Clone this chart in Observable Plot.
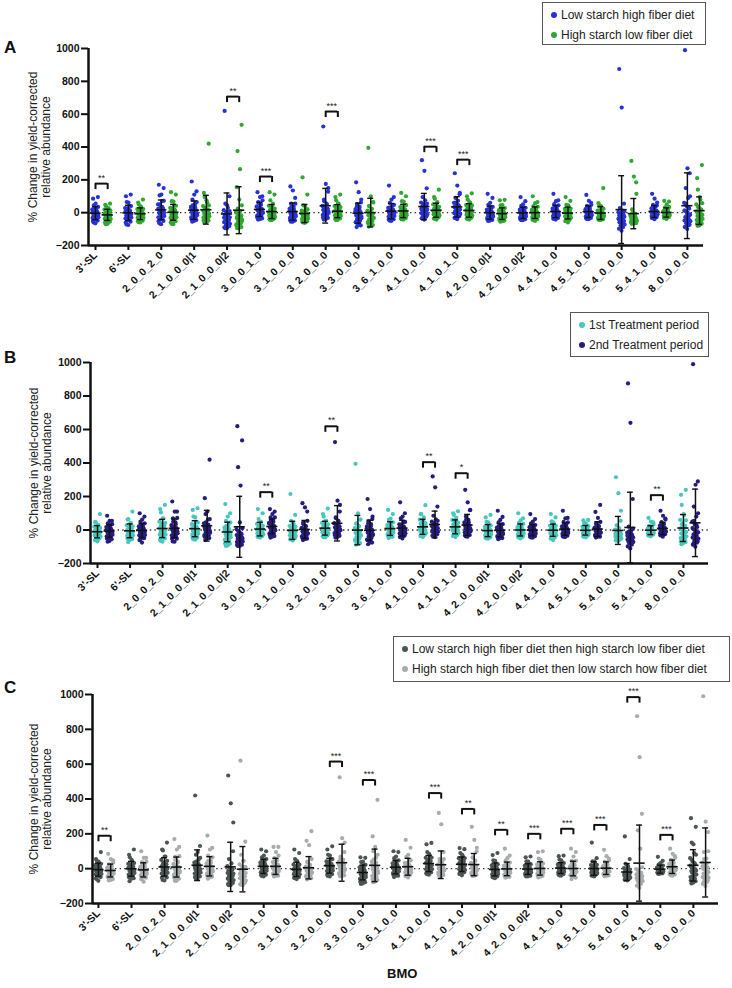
<!DOCTYPE html>
<html><head><meta charset="utf-8">
<script src="https://cdn.jsdelivr.net/npm/d3@7"></script>
<script src="https://cdn.jsdelivr.net/npm/@observablehq/plot@0.6"></script>
<style>
body{margin:0;background:#fff;font-family:"Liberation Sans",Arial,sans-serif;}
#root{position:relative;width:732px;height:988px;overflow:hidden;background:#fff;}
.legend{position:absolute;border:1px solid #555;background:#fff;font-size:12px;color:#222;box-sizing:border-box;padding:2px 0 0 8px;}
.legend .row{height:20px;line-height:20px;white-space:nowrap;}
.legend .dot{display:inline-block;width:6px;height:6px;border-radius:50%;margin-right:4px;vertical-align:1px;}
.letter{position:absolute;font-weight:bold;font-size:17px;line-height:17px;color:#111;}
.xtitle{position:absolute;font-weight:bold;font-size:13px;color:#111;}
</style></head>
<body><div id="root"></div>
<script>
// ---------------- data ----------------
const categories = ["3'-SL","6'-SL","2_0_0_2_0","2_1_0_0_0|1","2_1_0_0_0|2","3_0_0_1_0","3_1_0_0_0","3_2_0_0_0","3_3_0_0_0","3_6_1_0_0","4_1_0_0_0","4_1_0_1_0","4_2_0_0_0|1","4_2_0_0_0|2","4_4_1_0_0","4_5_1_0_0","5_4_0_0_0","5_4_1_0_0","8_0_0_0_0"];

// subjects on low starch high fiber diet first: period 1 (LSHF diet)
const lhFirst = [
[-60,-48,-40,-32,-25,-18,-12,-8,-2,5,12,20,30,45,95],
[-72,-55,-45,-35,-26,-18,-10,-4,3,10,18,28,42,65,110],
[-65,-50,-38,-28,-18,-8,0,8,16,25,36,50,70,105,150],
[-55,-45,-36,-28,-20,-12,-5,2,8,15,24,35,50,80,130],
[-95,-82,-70,-58,-48,-38,-28,-20,-12,-4,5,15,30,55,100],
[-42,-35,-28,-20,-12,-5,2,8,14,20,28,36,48,65,100],
[-55,-48,-40,-32,-25,-18,-12,-6,0,6,14,24,36,55,90],
[-42,-32,-22,-14,-6,0,6,12,18,25,32,42,55,80,128],
[-88,-78,-68,-58,-50,-42,-34,-26,-18,-10,-2,8,20,38,62],
[-48,-40,-32,-25,-18,-11,-4,2,8,15,22,30,42,60,95],
[-32,-22,-12,-4,4,12,20,28,36,44,52,62,75,95,148],
[-30,-20,-12,-4,4,12,20,27,34,42,50,60,72,90,112],
[-50,-44,-38,-32,-26,-20,-14,-8,-2,4,11,19,30,48,90],
[-45,-40,-34,-28,-22,-17,-12,-6,-1,5,11,18,27,42,70],
[-38,-32,-26,-21,-16,-11,-6,-1,4,10,17,25,36,52,75],
[-38,-32,-27,-22,-17,-12,-7,-2,3,8,14,21,30,42,60],
[-60,-52,-45,-40,-35,-30,-25,-20,-15,-10,-4,3,12,28,55],
[-30,-27,-24,-21,-18,-15,-12,-9,-6,-3,1,6,13,24,45],
[-85,-72,-60,-48,-36,-24,-12,0,12,25,40,60,90,150,240]
];
// same subjects: period 2 (HSLF diet)
const lhSecond = [
[-70,-55,-45,-38,-30,-22,-15,-10,-4,2,10,18,28,40,55],
[-58,-48,-40,-32,-25,-18,-12,-6,0,6,14,22,32,50,80],
[-68,-52,-42,-32,-24,-15,-8,-2,5,12,20,30,45,70,110],
[-60,-48,-38,-30,-22,-14,-6,0,8,16,26,40,62,95,420],
[-95,-88,-80,-72,-65,-58,-50,-42,-34,-25,-12,5,265,375,535],
[-45,-36,-28,-20,-12,-5,2,9,16,24,32,42,55,75,110],
[-60,-52,-45,-38,-32,-26,-20,-15,-10,-4,3,12,24,45,110],
[-45,-35,-26,-18,-10,-3,4,10,16,22,30,40,55,75,110],
[-85,-75,-66,-57,-48,-40,-32,-24,-16,-8,0,10,22,40,65],
[-40,-33,-27,-21,-15,-9,-3,3,9,16,24,34,48,70,100],
[-35,-26,-18,-10,-3,4,11,18,25,32,40,50,64,85,140],
[-38,-30,-22,-14,-7,0,7,14,21,28,36,46,60,80,118],
[-55,-48,-42,-36,-30,-24,-18,-12,-6,0,7,15,26,45,78],
[-44,-38,-32,-27,-22,-17,-12,-7,-2,4,10,17,26,40,65],
[-40,-34,-28,-23,-18,-13,-8,-3,2,8,14,22,32,48,72],
[-45,-40,-35,-30,-25,-20,-15,-10,-5,0,6,13,22,40,150],
[-68,-64,-60,-56,-52,-48,-44,-40,-35,-30,-24,-16,-5,20,185],
[-28,-25,-22,-19,-16,-13,-10,-7,-4,0,4,10,18,32,68],
[-80,-68,-56,-45,-34,-24,-14,-4,6,18,32,50,80,140,290]
];
// subjects on high starch low fiber diet first: period 1 (HSLF diet)
const hlFirst = [
[-68,-60,-52,-44,-38,-30,-25,-20,-15,-8,-2,6,14,25,48],
[-60,-52,-45,-38,-32,-26,-20,-14,-8,-2,5,12,22,38,62],
[-70,-58,-46,-36,-28,-20,-12,-5,2,10,18,28,42,68,125],
[-58,-46,-38,-30,-22,-15,-8,-2,5,12,20,30,45,75,120],
[-92,-80,-66,-55,-44,-34,-25,-16,-8,0,10,25,45,80,155],
[-45,-40,-35,-30,-25,-20,-15,-10,-5,0,6,14,25,42,125],
[-62,-55,-48,-42,-36,-30,-24,-18,-12,-6,0,8,20,40,215],
[-44,-38,-32,-26,-20,-14,-8,-3,2,8,14,22,34,55,95],
[-78,-65,-52,-42,-32,-22,-14,-6,2,12,24,40,62,100,395],
[-42,-35,-28,-22,-16,-10,-4,2,8,14,22,32,46,68,120],
[-42,-36,-30,-24,-18,-13,-8,-3,2,8,15,24,36,55,95],
[-42,-36,-30,-24,-18,-12,-6,0,6,12,20,30,44,65,100],
[-52,-46,-40,-34,-28,-22,-16,-10,-4,2,9,17,28,46,75],
[-50,-42,-35,-28,-22,-16,-10,-4,2,8,15,24,36,58,100],
[-60,-52,-45,-38,-31,-25,-19,-13,-7,-1,6,14,25,45,95],
[-44,-39,-34,-29,-24,-19,-14,-9,-4,1,7,14,24,40,58],
[-66,-62,-58,-54,-50,-46,-42,-37,-31,-24,-15,-2,115,220,315],
[-38,-33,-28,-23,-18,-13,-8,-3,2,8,15,23,34,50,72],
[-78,-68,-58,-48,-38,-29,-20,-11,-2,8,20,35,58,95,210]
];
// same subjects: period 2 (LSHF diet)
const hlSecond = [
[-65,-50,-42,-35,-28,-20,-14,-8,-2,4,12,22,35,55,85],
[-75,-60,-48,-38,-30,-22,-15,-8,-2,6,15,25,40,62,100],
[-70,-52,-40,-30,-20,-10,-2,6,14,24,35,50,72,110,170],
[-50,-40,-32,-24,-16,-8,0,6,14,22,32,45,65,110,190],
[-95,-90,-82,-75,-68,-60,-52,-45,-38,-30,-20,-8,10,45,620],
[-40,-30,-20,-10,-2,6,14,22,30,38,48,60,75,95,125],
[-55,-46,-38,-30,-22,-15,-8,-2,5,12,22,35,55,135,160],
[-42,-30,-20,-10,-2,6,14,22,30,40,52,70,150,175,525],
[-75,-60,-48,-36,-25,-15,-6,3,12,22,35,52,80,125,185],
[-50,-42,-34,-27,-20,-13,-6,0,7,14,22,32,48,80,165],
[-42,-34,-26,-18,-10,-4,2,8,14,22,30,40,55,255,320],
[-40,-32,-24,-16,-8,0,8,16,24,34,46,62,120,165,240],
[-48,-42,-36,-30,-24,-18,-12,-6,0,6,13,22,35,60,115],
[-46,-40,-34,-28,-23,-18,-12,-7,-2,4,11,19,30,50,95],
[-42,-36,-30,-24,-18,-12,-6,0,6,12,20,30,45,70,115],
[-40,-34,-28,-22,-16,-10,-4,2,8,15,23,33,48,72,108],
[-110,-98,-88,-80,-72,-65,-58,-50,-42,-34,-24,-10,8,640,875],
[-40,-32,-24,-16,-9,-2,5,12,19,27,36,47,62,85,115],
[-100,-88,-76,-64,-52,-40,-28,-15,-2,12,30,55,100,270,990]
];

const yTicks = [-200,0,200,400,600,800,1000];

const sigACats = ["3'-SL","2_1_0_0_0|2","3_0_0_1_0","3_2_0_0_0","4_1_0_0_0","4_1_0_1_0"];
const sigAY = [177,707,220,616,402,323];
const sigALabels = ["**","**","***","***","***","***"];

const sigBCats = ["3_0_0_1_0","3_2_0_0_0","4_1_0_0_0","4_1_0_1_0","5_4_1_0_0"];
const sigBY = [226,619,405,339,208];
const sigBLabels = ["**","**","**","*","**"];

const sigCCats = ["3'-SL","3_2_0_0_0","3_3_0_0_0","4_1_0_0_0","4_1_0_1_0","4_2_0_0_0|1","4_2_0_0_0|2","4_4_1_0_0","4_5_1_0_0","5_4_0_0_0","5_4_1_0_0"];
const sigCY = [189,615,509,434,343,223,200,229,251,985,194];
const sigCLabels = ["**","***","***","***","**","**","***","***","***","***","***"];

const legendA = ["Low starch high fiber diet","High starch low fiber diet"];
const legendB = ["1st Treatment period","2nd Treatment period"];
const legendC = ["Low starch high fiber diet then high starch low fiber diet","High starch high fiber diet then low starch how fiber diet"];

const yTitle = "% Change in yield-corrected\nrelative abundance";

// ---------------- drawing ----------------
const FONT = "'Liberation Sans', Arial, sans-serif";
const GROUP_OFFSET = 0.37;
const root = document.getElementById("root");
const jitter = k => (((k * 0.6180339887 + 0.21) % 1) - 0.5) * 0.2;

const panels = [
  {letter:"A", top:0, height:300, mt:48, mb:55, ml:88, mr:29, xdom:[-0.213,18.49],
   groups:[[lhFirst,hlSecond],[lhSecond,hlFirst]], colors:["#2631d9","#2ea82e"],
   sig:[sigACats,sigAY,sigALabels], legend:legendA, lg:{left:542,top:2,width:164,height:43},
   letterTop:39, labelDx:-49},
  {letter:"B", top:300, height:310, mt:62, mb:47, ml:90, mr:24, xdom:[-0.215,18.77],
   groups:[[lhFirst,hlFirst],[lhSecond,hlSecond]], colors:["#45c8bb","#251b80"],
   sig:[sigBCats,sigBY,sigBLabels], legend:legendB, lg:{left:570,top:312,width:139,height:45},
   letterTop:349, labelDx:-50},
  {letter:"C", top:610, height:378, mt:84, mb:85, ml:92, mr:14, xdom:[-0.18,18.76],
   groups:[[lhFirst,lhSecond],[hlFirst,hlSecond]], colors:["#4b5553","#a7acae"],
   sig:[sigCCats,sigCY,sigCLabels], legend:legendC, lg:{left:393,top:636,width:337,height:46},
   letterTop:679, labelDx:-52}
];

panels.forEach(p => {
  const pts = [], stats = [];
  categories.forEach((c, ci) => {
    p.groups.forEach((srcs, g) => {
      const vals = srcs.flatMap(s => s[ci]);
      const x0 = ci + g * GROUP_OFFSET;
      vals.forEach((v, k) => pts.push({x: x0 + jitter(k), y: v, g}));
      stats.push({x: x0, mean: d3.mean(vals), sd: d3.deviation(vals)});
    });
  });
  const frameH = p.height - p.mt - p.mb;
  const leg = 6 / (frameH / 1200);
  const [sc, sy, sl] = p.sig;
  const sig = sc.map((c, i) => ({x: categories.indexOf(c), v: sy[i], label: sl[i]}));
  const [xmin, xmax] = p.xdom;

  const chart = Plot.plot({
    width: 732, height: p.height,
    marginTop: p.mt, marginBottom: p.mb, marginLeft: p.ml, marginRight: p.mr,
    style: {background: "none", fontFamily: FONT, fontSize: "10px", color: "#111", overflow: "visible"},
    x: {type: "linear", domain: p.xdom, axis: null},
    y: {domain: [-200, 1000], axis: null},
    marks: [
      Plot.ruleY([0], {x1: xmin, x2: xmax, stroke: "#333", strokeWidth: 1.4, strokeDasharray: "1.4,3.2"}),
      Plot.dot(pts, {x: "x", y: "y", r: 2.1, fill: d => p.colors[d.g], stroke: "none"}),
      Plot.ruleX(stats, {x: "x", y1: d => d.mean - d.sd, y2: d => d.mean + d.sd, stroke: "#111", strokeWidth: 1.5, clip: true}),
      Plot.ruleY(stats, {y: "mean", x1: d => d.x - 0.17, x2: d => d.x + 0.17, stroke: "#111", strokeWidth: 1.6}),
      Plot.ruleY(stats, {y: d => d.mean + d.sd, x1: d => d.x - 0.09, x2: d => d.x + 0.09, stroke: "#111", strokeWidth: 1.4, clip: true}),
      Plot.ruleY(stats, {y: d => d.mean - d.sd, x1: d => d.x - 0.09, x2: d => d.x + 0.09, stroke: "#111", strokeWidth: 1.4, clip: true}),
      // significance brackets
      Plot.ruleY(sig, {y: "v", x1: "x", x2: d => d.x + GROUP_OFFSET, stroke: "#111", strokeWidth: 2}),
      Plot.ruleX(sig, {x: "x", y1: "v", y2: d => d.v - leg, stroke: "#111", strokeWidth: 2}),
      Plot.ruleX(sig, {x: d => d.x + GROUP_OFFSET, y1: "v", y2: d => d.v - leg, stroke: "#111", strokeWidth: 2}),
      Plot.text(sig, {x: d => d.x + GROUP_OFFSET / 2, y: "v", text: "label", dy: -3, lineAnchor: "bottom", fontSize: 9, fill: "#222"}),
      // axes
      Plot.ruleX([xmin], {y1: -200, y2: 1000, stroke: "#111", strokeWidth: 2.5}),
      Plot.ruleY([-200], {x1: xmin, x2: xmax, stroke: "#111", strokeWidth: 2.5}),
      Plot.axisY({ticks: yTicks, tickFormat: d3.format("d"), tickSize: 7, tickPadding: 2, strokeWidth: 2, fontWeight: "bold", fontSize: 10.5, label: null}),
      Plot.axisX({ticks: d3.range(categories.length), tickFormat: i => categories[i], tickRotate: -45,
                  tickSize: 5, tickPadding: 3, strokeWidth: 2, fontWeight: "bold", fontSize: 10.5, label: null}),
      Plot.text([yTitle], {text: d => d, frameAnchor: "left", textAnchor: "middle", lineAnchor: "middle", dx: p.labelDx, rotate: -90, fontSize: 12, lineHeight: 1.05, fill: "#222"})
    ]
  });
  chart.style.position = "absolute";
  chart.style.left = "0px";
  chart.style.top = p.top + "px";
  root.appendChild(chart);

  const lg = document.createElement("div");
  lg.className = "legend";
  Object.assign(lg.style, {left: p.lg.left + "px", top: p.lg.top + "px", width: p.lg.width + "px", height: p.lg.height + "px"});
  p.legend.forEach((t, i) => {
    const row = document.createElement("div");
    row.className = "row";
    const dot = document.createElement("span");
    dot.className = "dot";
    dot.style.background = p.colors[i];
    row.appendChild(dot);
    row.appendChild(document.createTextNode(t));
    lg.appendChild(row);
  });
  root.appendChild(lg);

  const letter = document.createElement("div");
  letter.className = "letter";
  letter.textContent = p.letter;
  Object.assign(letter.style, {left: "4px", top: p.letterTop + "px"});
  root.appendChild(letter);
});

const xt = document.createElement("div");
xt.className = "xtitle";
xt.textContent = "BMO";
Object.assign(xt.style, {left: "387px", top: "966px"});
root.appendChild(xt);
</script>
</body></html>
